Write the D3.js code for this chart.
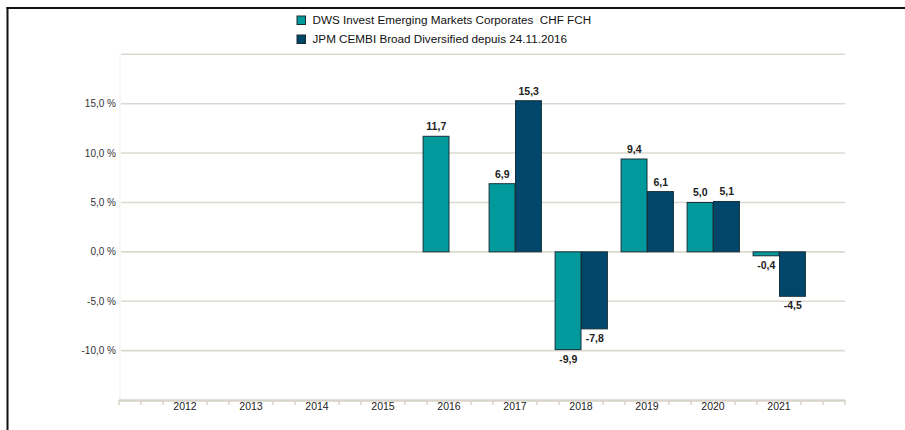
<!DOCTYPE html>
<html><head><meta charset="utf-8">
<script src="https://cdn.jsdelivr.net/npm/d3@7/dist/d3.min.js"></script>
<style>
body{margin:0;background:#fff;}
svg{display:block;font-family:"Liberation Sans",Arial,sans-serif;}
</style></head>
<body>
<svg id="chart" width="905" height="430"></svg>
<script>
const years = ["2012","2013","2014","2015","2016","2017","2018","2019","2020","2021"];
const seriesNames = ["DWS Invest Emerging Markets Corporates  CHF FCH", "JPM CEMBI Broad Diversified depuis 24.11.2016"];
const fundValues = [null,null,null,null,11.7,6.9,-9.9,9.4,5.0,-0.4];
const indexValues = [null,null,null,null,null,15.3,-7.8,6.1,5.1,-4.5];
const yTicks = [-10,-5,0,5,10,15,20];
const colors = ["#009a9d","#00476b"];

const svg = d3.select("#chart");
const fmt = v => v.toFixed(1).replace(".", ",");

const y = d3.scaleLinear().domain([-15,20]).range([400,54.3]);
const x = d3.scaleBand().domain(years).range([152,812]).paddingInner(0.2).paddingOuter(0.1);
const xs = d3.scaleBand().domain([0,1]).range([0,x.bandwidth()]);

const axStart = x.range()[0] - x.step()/2;
const axEnd = x.range()[1] + x.step()/2;

// frame
svg.append("line").attr("x1",6.5).attr("x2",905).attr("y1",8).attr("y2",8).attr("stroke","#111").attr("stroke-width",2);
svg.append("line").attr("x1",7.5).attr("x2",7.5).attr("y1",7).attr("y2",430).attr("stroke","#111").attr("stroke-width",2);

// faint vertical plot edge
svg.append("line").attr("x1",axStart+1).attr("x2",axStart+1).attr("y1",y(20)).attr("y2",y(-15)).attr("stroke","#f1f0ec").attr("stroke-width",1);

// gridlines
svg.append("g").selectAll("line").data(yTicks).join("line")
  .attr("x1",axStart+2).attr("x2",axEnd)
  .attr("y1",d=>y(d)).attr("y2",d=>y(d))
  .attr("stroke","#dcd9d1").attr("stroke-width",1.6);

// y labels
svg.append("g").selectAll("text").data(yTicks.filter(d=>d<20)).join("text")
  .attr("x",116).attr("y",d=>y(d)+3.5).attr("text-anchor","end")
  .attr("font-size","10px").attr("fill","#333")
  .text(d=>fmt(d)+" %");

// x axis line and ticks
svg.append("line").attr("x1",axStart).attr("x2",axEnd).attr("y1",y(-15)+0.5).attr("y2",y(-15)+0.5)
  .attr("stroke","#d8d4ca").attr("stroke-width",2.5);
const nT = Math.round((axEnd-axStart)/(x.step()/3));
const tickIdx = d3.range(nT+1).filter(k => !(k%3===0 && k>0 && k<nT));
svg.append("g").selectAll("line").data(tickIdx).join("line")
  .attr("x1",k=>axStart+k*x.step()/3).attr("x2",k=>axStart+k*x.step()/3)
  .attr("y1",y(-15)).attr("y2",y(-15)+5)
  .attr("stroke","#d8d4ca").attr("stroke-width",1.5);
svg.append("g").selectAll("text").data(years).join("text")
  .attr("x",d=>x(d)+x.bandwidth()/2).attr("y",409.5).attr("text-anchor","middle")
  .attr("font-size","10.5px").attr("fill","#222").text(d=>d);

// bars
const data = [];
years.forEach((yr,i)=>{
  [fundValues[i], indexValues[i]].forEach((v,s)=>{ if(v!==null) data.push({yr,s,v}); });
});
svg.append("g").selectAll("rect").data(data).join("rect")
  .attr("x",d=>x(d.yr)+xs(d.s)+0.5)
  .attr("width",xs.bandwidth()-0.5)
  .attr("y",d=>y(Math.max(0,d.v)))
  .attr("height",d=>Math.abs(y(d.v)-y(0)))
  .attr("fill",d=>colors[d.s]).attr("stroke","#17303a").attr("stroke-width",1);

svg.append("g").selectAll("text").data(data).join("text")
  .attr("x",d=>x(d.yr)+xs(d.s)+xs.bandwidth()/2+0.5)
  .attr("y",d=>d.v>=0 ? y(d.v)-6 : y(d.v)+13)
  .attr("text-anchor","middle").attr("font-size","10.5px").attr("font-weight","bold").attr("fill","#222")
  .text(d=>fmt(d.v));

// legend
const lg = svg.append("g");
seriesNames.forEach((n,i)=>{
  lg.append("rect").attr("x",297).attr("y",16+i*19).attr("width",8.5).attr("height",8.5)
    .attr("fill",colors[i]).attr("stroke","#1a2a30").attr("stroke-width",1);
  lg.append("text").attr("x",312.5).attr("y",24+i*19).attr("font-size","11.7px").attr("fill","#111")
    .style("white-space","pre").text(n);
});
</script>
</body></html>
